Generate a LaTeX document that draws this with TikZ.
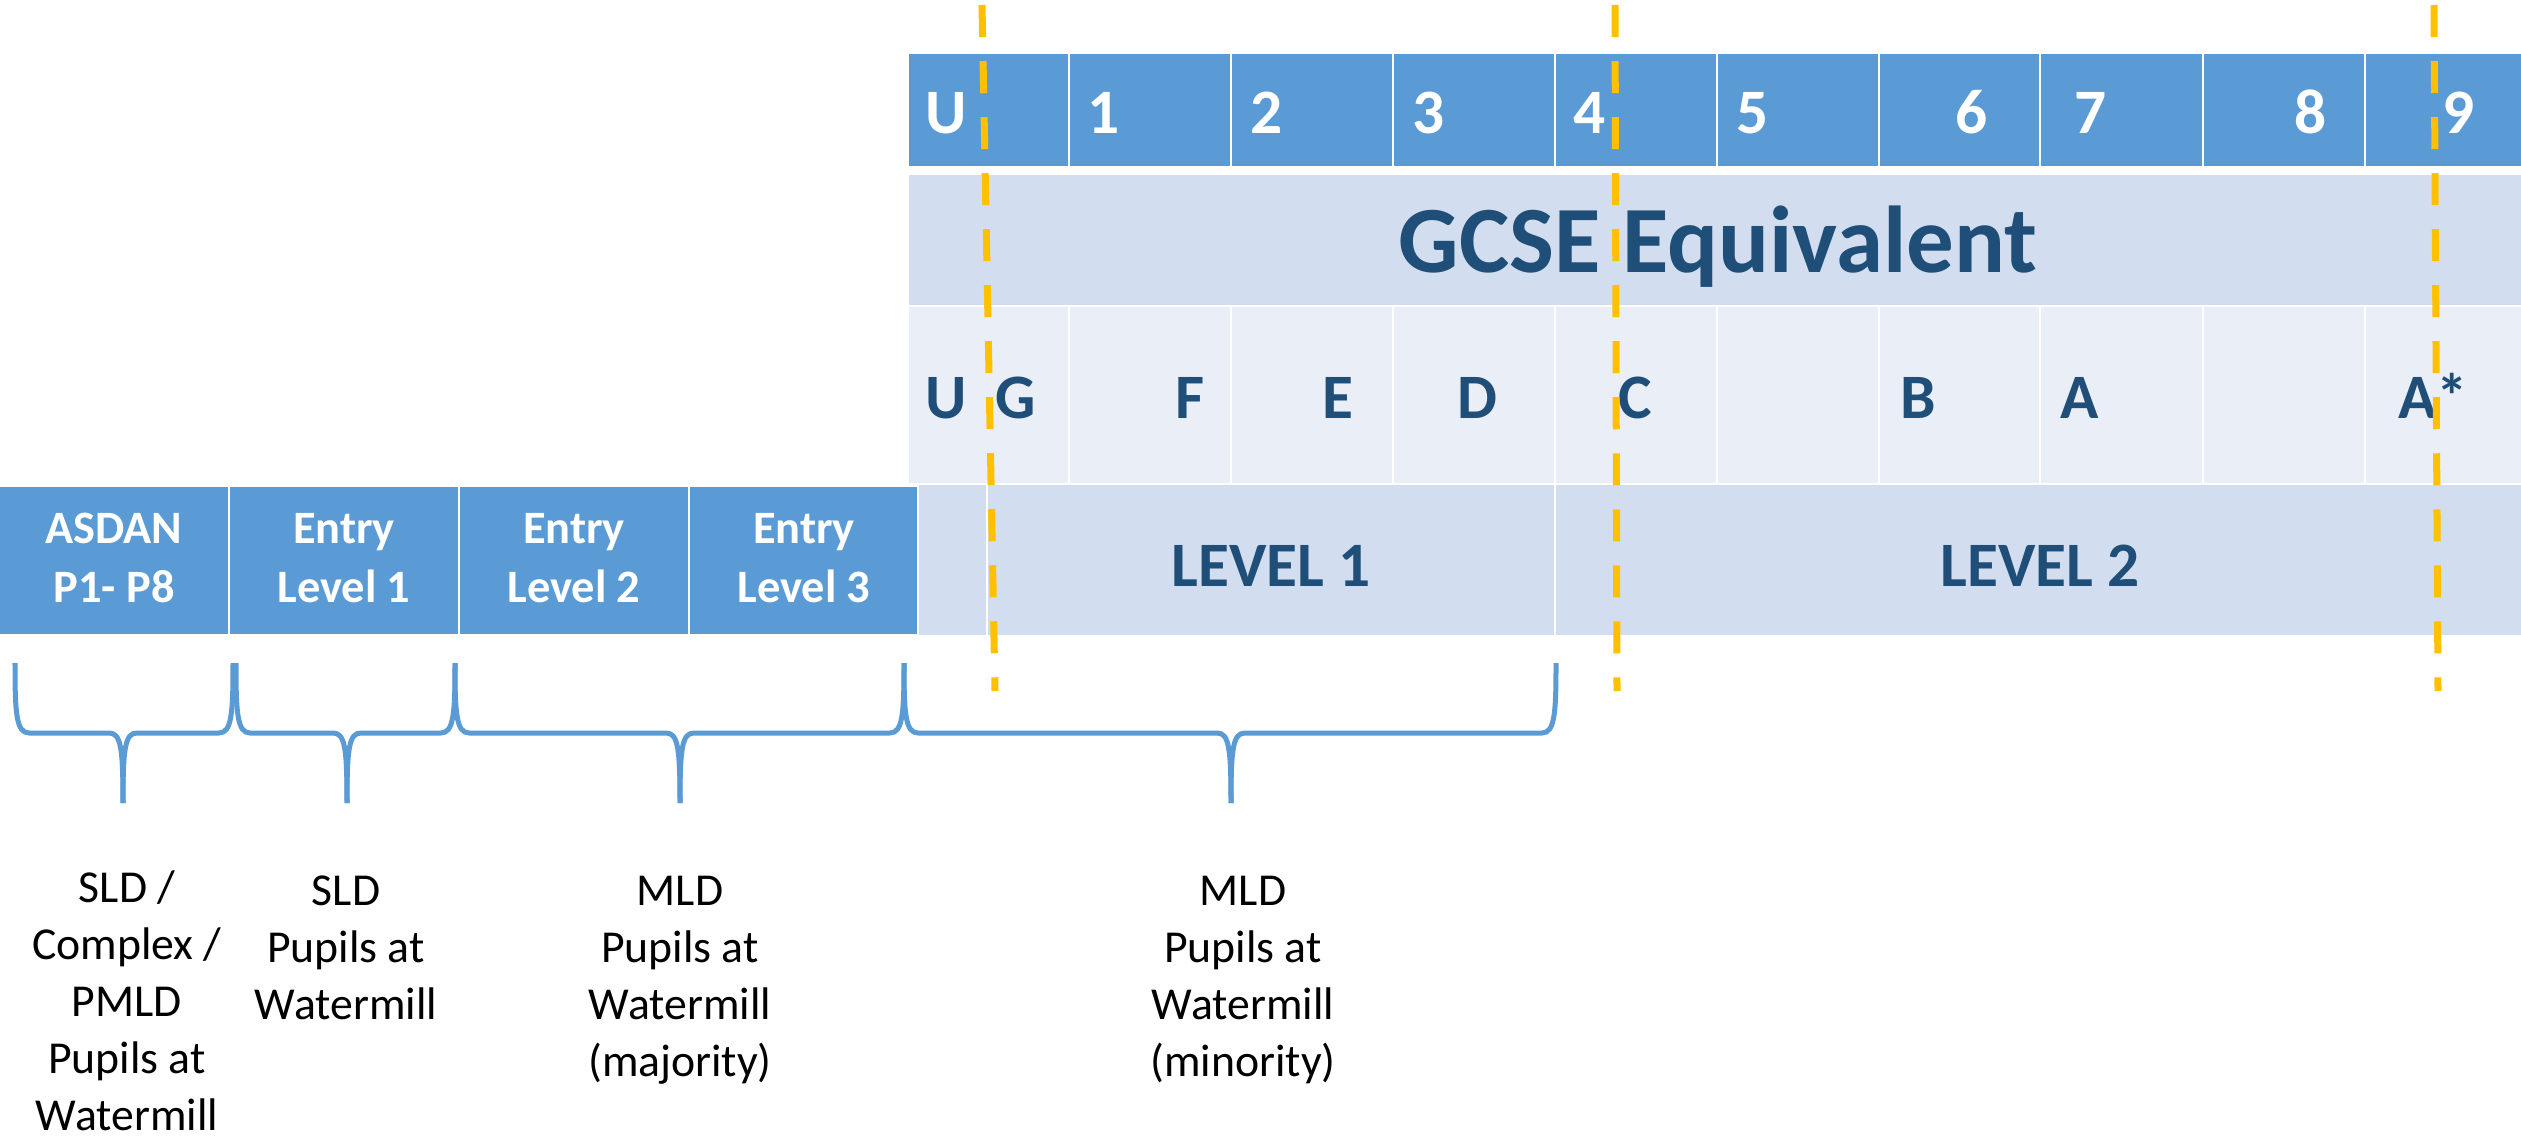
\documentclass[tikz,border=0pt]{standalone}
\usepackage{fontspec}
\setmainfont{Carlito}
\definecolor{accent}{HTML}{5B9BD5}
\definecolor{lightA}{HTML}{D2DEEF}
\definecolor{lightB}{HTML}{EAEFF7}
\definecolor{darkt}{HTML}{1F4E79}
\definecolor{gold}{HTML}{FFC000}
\newcommand\mybrace[3]{%
  \draw[bracestyle] (#1,663) .. controls (#1,712) and (#1+1,733) .. (#1+14,733) -- (#2-14,733) .. controls (#2-2,733) and (#2,748) .. (#2,803);
  \draw[bracestyle] (#2,803) .. controls (#2,748) and (#2+2,733) .. (#2+14,733) -- (#3-14,733) .. controls (#3-1,733) and (#3,712) .. (#3,663);
}
\begin{document}
\begin{tikzpicture}[x=0.01cm,y=-0.01cm,
  cellA/.style={fill=accent,draw=white,line width=0.8pt},
  cellB/.style={fill=lightA,draw=white,line width=0.8pt},
  cellC/.style={fill=lightB,draw=white,line width=0.8pt},
  toplbl/.style={anchor=base,inner sep=0pt,text=white,font=\fontsize{18}{20}\selectfont\bfseries},
  gradelbl/.style={anchor=base,inner sep=0pt,text=darkt,font=\fontsize{18}{20}\selectfont\bfseries},
  boxlbl/.style={anchor=base,inner sep=0pt,text=white,align=center,font=\fontsize{13.2}{16.5}\selectfont\bfseries},
  bottxt/.style={anchor=base,inner sep=0pt,text=black,align=center,font=\fontsize{13}{16.2}\selectfont},
  bracestyle/.style={draw=accent,line width=0.05cm,line join=round},
  guide/.style={draw=gold,line width=0.07cm,dash pattern=on 0.32cm off 0.24cm}]
\useasboundingbox (0,0) rectangle (2521,1140);
\fill[white] (0,0) rectangle (2521,1140);
% top row of numbers
\foreach \a/\b in {908/1069,1069/1231,1231/1393,1393/1555,1555/1717,1717/1879,1879/2040,2040/2203,2203/2365,2365/2525}
  \path[cellA] (\a,53) rectangle (\b,167);
% GCSE row
\path[cellB] (908,174) rectangle (2525,306);
% grade row
\foreach \a/\b in {908/1069,1069/1231,1231/1393,1393/1555,1555/1717,1717/1879,1879/2040,2040/2203,2203/2365,2365/2525}
  \path[cellC] (\a,306) rectangle (\b,484);
% level row
\path[cellB] (908,484) rectangle (987,636);
\path[cellB] (987,484) rectangle (1555,636);
\path[cellB] (1555,484) rectangle (2525,636);
% left boxes
\path[cellA] (-5,486) rectangle (229,635);
\path[cellA] (229,486) rectangle (459,635);
\path[cellA] (459,486) rectangle (689,635);
\path[cellA] (689,486) rectangle (918,635);

% top labels
\node[toplbl] (tU) at (946,134) {U};
\node[toplbl] (t1) at (1104,134) {1};
\node[toplbl] (t2) at (1267,134) {2};
\node[toplbl] (t3) at (1429,134) {3};
\node[toplbl] (t4) at (1590,134) {4};
\node[toplbl] (t5) at (1753,134) {5};
\node[toplbl] (t6) at (1972,134) {6};
\node[toplbl] (t7) at (2091,134) {7};
\node[toplbl] (t8) at (2311,134) {8};
\node[toplbl] (t9) at (2459,134) {9};
% GCSE title
\node[anchor=base,inner sep=0pt,text=darkt,font=\fontsize{27}{30}\selectfont\bfseries] (gcse) at (1718,273) {GCSE Equivalent};
% grades
\node[gradelbl] (gU) at (946,419) {U};
\node[gradelbl] (gG) at (1016,419) {G};
\node[gradelbl] (gF) at (1190,419) {F};
\node[gradelbl] (gE) at (1338,419) {E};
\node[gradelbl] (gD) at (1477,419) {D};
\node[gradelbl] (gC) at (1635,419) {C};
\node[gradelbl] (gB) at (1918,419) {B};
\node[gradelbl] (gA) at (2080,419) {A};
\node[gradelbl] (gAs) at (2433,419) {A*};
% levels
\node[gradelbl] (lv1) at (1271,586) {LEVEL 1};
\node[gradelbl] (lv2) at (2040,586) {LEVEL 2};
% left box labels (base = last line)
\node[boxlbl] (asdan) at (114,602) {ASDAN\\P1- P8};
\node[boxlbl] (el1) at (344,602) {Entry\\Level 1};
\node[boxlbl] (el2) at (574,602) {Entry\\Level 2};
\node[boxlbl] (el3) at (804,602) {Entry\\Level 3};

% dashed guides
\coordinate (d1t) at (982,5);
\coordinate (d1b) at (995,691);
\coordinate (d2t) at (1615,5);
\coordinate (d2b) at (1617,691);
\coordinate (d3t) at (2434,5);
\coordinate (d3b) at (2438,691);
\draw[guide] (d1t) -- (d1b);
\draw[guide] (d2t) -- (d2b);
\draw[guide] (d3t) -- (d3b);

% braces
\mybrace{15}{123}{233}
\mybrace{236}{347}{455}
\mybrace{455}{680}{904}
\mybrace{904}{1231}{1556}

% bottom descriptions (base = last line)
\node[bottxt] (c1) at (127,1130) {SLD /\\Complex /\\PMLD\\Pupils at\\Watermill};
\node[bottxt] (c2) at (346,1019) {SLD\\Pupils at\\Watermill};
\node[bottxt] (c3) at (680,1076) {MLD\\Pupils at\\Watermill\\(majority)};
\node[bottxt] (c4) at (1243,1076) {MLD\\Pupils at\\Watermill\\(minority)};
\end{tikzpicture}
\end{document}
